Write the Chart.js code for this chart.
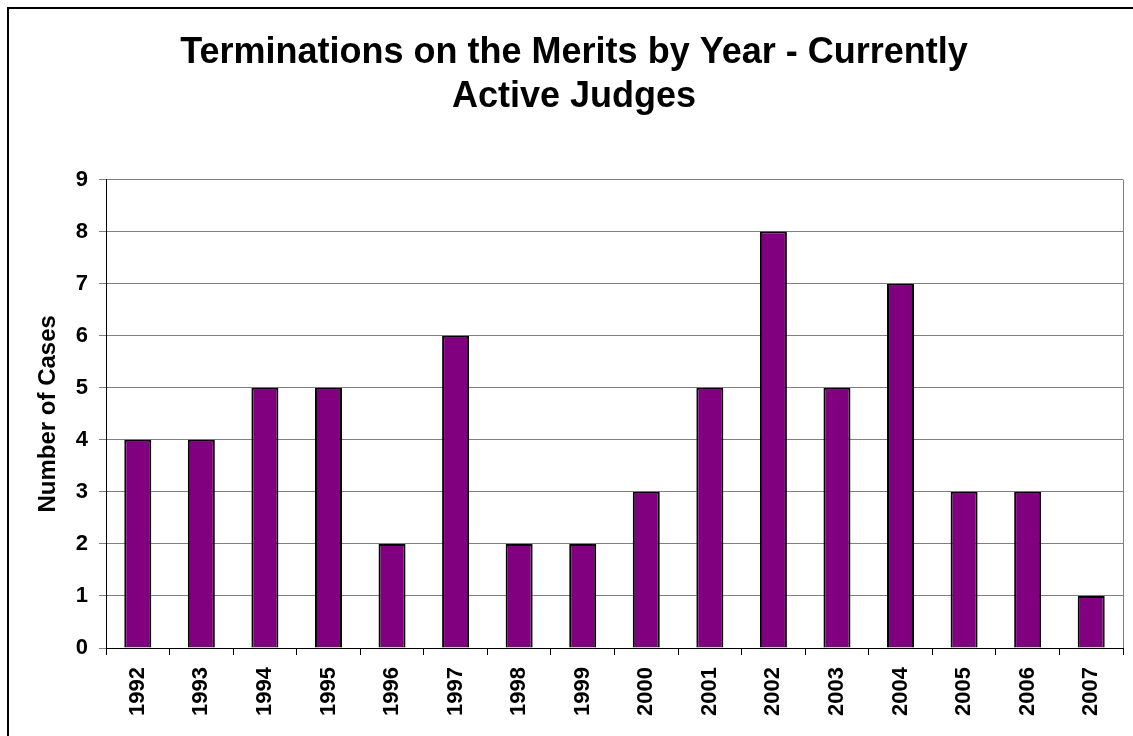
<!DOCTYPE html>
<html>
<head>
<meta charset="utf-8">
<script src="https://cdn.jsdelivr.net/npm/chart.js@4"></script>
<style>
  html, body { margin: 0; padding: 0; background: #fff; overflow: hidden; }
  #wrap { position: relative; width: 1133px; height: 736px; }
  #frame { position: absolute; left: 7px; top: 7px; width: 1200px; height: 800px;
           border: 2px solid #000; pointer-events: none; }
</style>
</head>
<body>
<div id="wrap">
  <canvas id="meritsChart" width="1133" height="736"></canvas>
  <div id="frame"></div>
</div>
<script>
const years = ['1992', '1993', '1994', '1995', '1996', '1997', '1998', '1999',
               '2000', '2001', '2002', '2003', '2004', '2005', '2006', '2007'];
const caseCounts = [4, 4, 5, 5, 2, 6, 2, 2, 3, 5, 8, 5, 7, 3, 3, 1];
const chartTitle = ['Terminations on the Merits by Year - Currently', 'Active Judges'];
const yAxisTitle = 'Number of Cases';

const fontFamily = "Arial, 'Liberation Sans', sans-serif";

const ctx = document.getElementById('meritsChart').getContext('2d');
new Chart(ctx, {
    type: 'bar',
    data: {
        labels: years,
        datasets: [
            {
                label: yAxisTitle,
                data: caseCounts,
                backgroundColor: '#800080',
                borderColor: '#000000',
                borderWidth: 2,
                categoryPercentage: 1,
                barPercentage: 0.425
            }
        ]
    },
    options: {
        responsive: false,
        animation: false,
        layout: {
            padding: { left: 25, right: 10, top: 0, bottom: 0 }
        },
        plugins: {
            legend: { display: false },
            tooltip: { enabled: false },
            title: {
                display: true,
                text: chartTitle,
                color: '#000',
                font: { family: fontFamily, size: 36, weight: 'bold', lineHeight: 1.23 },
                padding: { top: 31, bottom: 60 }
            }
        },
        scales: {
            x: {
                border: { color: '#000', width: 1 },
                grid: {
                    offset: true,
                    drawOnChartArea: true,
                    // only the right edge of the plot gets a line
                    color: c => (c.type === 'tick' ? 'rgba(0,0,0,0)' : '#808080'),
                    tickColor: '#000',
                    tickLength: 7
                },
                ticks: {
                    color: '#000',
                    font: { family: fontFamily, size: 22, weight: 'bold' },
                    minRotation: 90,
                    maxRotation: 90,
                    padding: 12,
                    autoSkip: false
                },
                afterFit: scale => { scale.height = 88; }
            },
            y: {
                min: 0,
                max: 9,
                border: { color: '#000', width: 1 },
                grid: {
                    color: '#808080',
                    tickColor: '#808080',
                    tickLength: 7
                },
                ticks: {
                    stepSize: 1,
                    color: '#000',
                    font: { family: fontFamily, size: 22, weight: 'bold' },
                    padding: 11
                },
                title: {
                    display: true,
                    text: yAxisTitle,
                    color: '#000',
                    font: { family: fontFamily, size: 24, weight: 'bold' },
                    padding: { top: 9, bottom: 0 }
                },
                afterFit: scale => { scale.width = 81; }
            }
        }
    }
});
</script>
</body>
</html>
